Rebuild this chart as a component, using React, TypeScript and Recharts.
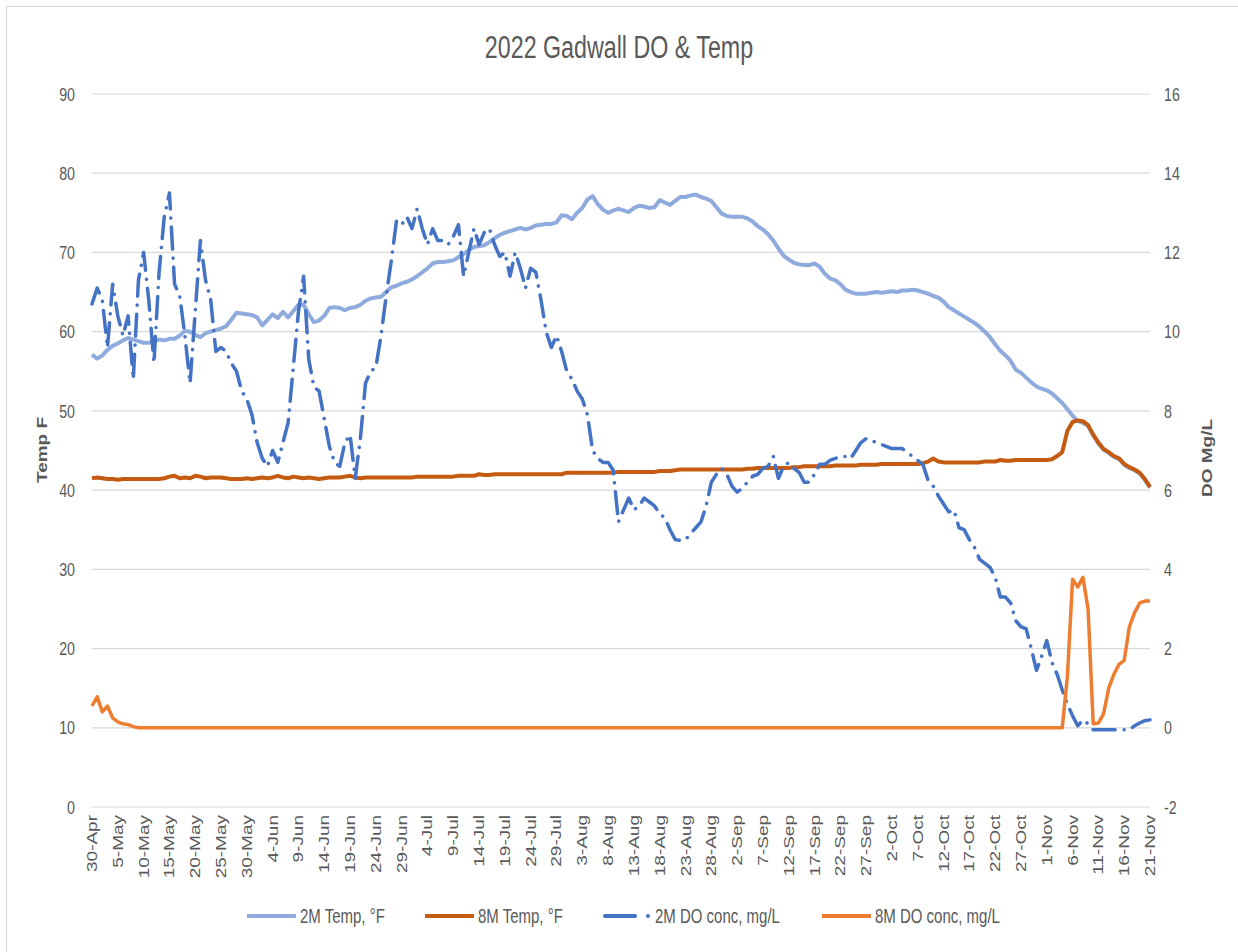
import React from 'react'
import { LineChart, Line, XAxis, YAxis, CartesianGrid } from 'recharts'

// daily readings, 30-Apr .. 21-Nov 2022
const temp2m = [
  57.1, 56.6, 57.0, 57.7, 58.2, 58.5, 58.9, 59.2, 59.0, 58.8,
  58.6, 58.6, 58.8, 59.0, 58.9, 59.1, 59.1, 59.5, 60.1, 60.0,
  59.6, 59.3, 59.8, 60.0, 60.2, 60.4, 60.7, 61.5, 62.4, 62.3,
  62.2, 62.1, 61.8, 60.8, 61.5, 62.2, 61.7, 62.5, 61.8, 62.6,
  63.4, 63.4, 62.2, 61.2, 61.4, 62.0, 63.0, 63.1, 63.0, 62.7,
  63.0, 63.1, 63.4, 63.9, 64.2, 64.3, 64.4, 65.0, 65.6, 65.8,
  66.1, 66.3, 66.6, 67.0, 67.5, 68.0, 68.6, 68.8, 68.8, 68.9,
  69.0, 69.4, 69.8, 70.3, 70.7, 70.8, 70.9, 71.3, 71.8, 72.2,
  72.5, 72.7, 72.9, 73.1, 72.9, 73.1, 73.4, 73.5, 73.6, 73.6,
  73.8, 74.7, 74.6, 74.2, 75.0, 75.6, 76.7, 77.1, 76.1, 75.4,
  75.0, 75.3, 75.5, 75.3, 75.1, 75.6, 75.9, 75.8, 75.6, 75.7,
  76.6, 76.3, 76.0, 76.5, 77.0, 77.0, 77.2, 77.3, 77.0, 76.8,
  76.5, 75.7, 74.9, 74.6, 74.5, 74.5, 74.5, 74.3, 73.9, 73.3,
  72.9, 72.3, 71.5, 70.5, 69.6, 69.1, 68.7, 68.5, 68.4, 68.4,
  68.6, 68.2, 67.3, 66.7, 66.5, 66.0, 65.3, 65.0, 64.8, 64.8,
  64.8, 64.9, 65.0, 64.9, 65.0, 65.1, 65.0, 65.2, 65.2, 65.3,
  65.2, 65.0, 64.8, 64.5, 64.3, 63.8, 63.1, 62.7, 62.3, 61.9,
  61.5, 61.1, 60.6, 60.0, 59.3, 58.4, 57.6, 57.0, 56.3, 55.2,
  54.8, 54.2, 53.6, 53.1, 52.8, 52.6, 52.2, 51.6, 51.0, 50.2,
  49.4, 48.7, 48.5, 48.1, 46.9, 45.9, 45.1, 44.7, 44.2, 43.9,
  43.2, 42.8, 42.5, 42.1, 41.3, 40.3,
]

const temp8m = [
  41.5, 41.6, 41.5, 41.4, 41.4, 41.3, 41.4, 41.4, 41.4, 41.4,
  41.4, 41.4, 41.4, 41.4, 41.5, 41.7, 41.8, 41.5, 41.6, 41.5,
  41.8, 41.7, 41.5, 41.6, 41.6, 41.6, 41.5, 41.4, 41.4, 41.4,
  41.5, 41.4, 41.5, 41.6, 41.5, 41.6, 41.8, 41.6, 41.5, 41.7,
  41.6, 41.5, 41.6, 41.5, 41.4, 41.5, 41.6, 41.6, 41.6, 41.7,
  41.8, 41.6, 41.5, 41.6, 41.6, 41.6, 41.6, 41.6, 41.6, 41.6,
  41.6, 41.6, 41.6, 41.7, 41.7, 41.7, 41.7, 41.7, 41.7, 41.7,
  41.7, 41.8, 41.8, 41.8, 41.8, 42.0, 41.9, 41.9, 42.0, 42.0,
  42.0, 42.0, 42.0, 42.0, 42.0, 42.0, 42.0, 42.0, 42.0, 42.0,
  42.0, 42.0, 42.2, 42.2, 42.2, 42.2, 42.2, 42.2, 42.2, 42.2,
  42.2, 42.2, 42.3, 42.3, 42.3, 42.3, 42.3, 42.3, 42.3, 42.3,
  42.4, 42.4, 42.4, 42.5, 42.6, 42.6, 42.6, 42.6, 42.6, 42.6,
  42.6, 42.6, 42.6, 42.6, 42.6, 42.6, 42.6, 42.7, 42.7, 42.8,
  42.8, 42.8, 42.8, 42.8, 42.8, 42.8, 42.9, 42.9, 43.0, 43.0,
  43.0, 43.0, 43.0, 43.0, 43.1, 43.1, 43.1, 43.1, 43.1, 43.2,
  43.2, 43.2, 43.2, 43.3, 43.3, 43.3, 43.3, 43.3, 43.3, 43.3,
  43.3, 43.4, 43.6, 44.0, 43.6, 43.5, 43.5, 43.5, 43.5, 43.5,
  43.5, 43.5, 43.5, 43.6, 43.6, 43.6, 43.8, 43.7, 43.7, 43.8,
  43.8, 43.8, 43.8, 43.8, 43.8, 43.8, 43.9, 44.3, 44.8, 47.5,
  48.6, 48.8, 48.7, 48.2, 47.0, 46.0, 45.2, 44.8, 44.3, 44.0,
  43.3, 42.9, 42.6, 42.2, 41.4, 40.4,
]

const do2m = [
  10.7, 11.1, 10.8, 9.6, 11.2, 10.4, 9.9, 10.4, 8.8, 11.3,
  12.0, 10.8, 9.2, 11.5, 12.9, 13.5, 11.2, 10.9, 9.9, 8.7,
  10.5, 12.3, 11.3, 10.8, 9.5, 9.6, 9.5, 9.2, 9.0, 8.5,
  8.3, 7.9, 7.2, 6.8, 6.6, 7.0, 6.7, 7.2, 7.7, 9.1,
  10.5, 11.4, 9.3, 8.6, 8.5, 7.8, 7.1, 6.7, 6.6, 7.2,
  7.4, 6.3, 7.3, 8.7, 9.0, 9.1, 9.9, 10.9, 11.8, 12.8,
  12.7, 12.9, 12.6, 13.1, 12.6, 12.2, 12.6, 12.3, 12.3, 12.2,
  12.4, 12.7, 11.4, 12.0, 12.6, 12.2, 12.5, 12.6, 12.2, 11.9,
  12.0, 11.4, 12.0, 11.6, 11.1, 11.6, 11.5, 10.8, 10.0, 9.6,
  9.9, 9.5, 9.0, 8.8, 8.5, 8.3, 7.9, 7.0, 6.8, 6.7,
  6.7, 6.5, 5.2, 5.5, 5.8, 5.5, 5.6, 5.8, 5.7, 5.6,
  5.4, 5.3, 5.0, 4.75, 4.73, 4.75, 4.9, 5.05, 5.2, 5.6,
  6.2, 6.4, 6.55, 6.4, 6.1, 5.95, 6.05, 6.2, 6.35, 6.4,
  6.55, 6.6, 6.85, 6.3, 6.6, 6.7, 6.55, 6.45, 6.2, 6.2,
  6.4, 6.65, 6.65, 6.75, 6.8, 6.85, 6.85, 6.8, 7.0, 7.2,
  7.3, 7.25, 7.2, 7.15, 7.1, 7.05, 7.05, 7.05, 6.95, 6.85,
  6.75, 6.65, 6.25, 6.1, 5.85, 5.65, 5.45, 5.5, 5.05, 5.0,
  4.75, 4.55, 4.25, 4.15, 4.05, 3.8, 3.3, 3.3, 3.15, 2.7,
  2.55, 2.5, 2.0, 1.45, 1.8, 2.2, 1.65, 1.35, 0.95, 0.6,
  0.3, 0.05, 0.2, 0.1, -0.05, -0.05, -0.05, -0.05, -0.05, -0.05,
  -0.05, -0.05, 0.05, 0.12, 0.18, 0.2,
]

const do8m = [
  0.55, 0.78, 0.4, 0.55, 0.25, 0.15, 0.1, 0.08, 0.03, 0,
  0, 0, 0, 0, 0, 0, 0, 0, 0, 0,
  0, 0, 0, 0, 0, 0, 0, 0, 0, 0,
  0, 0, 0, 0, 0, 0, 0, 0, 0, 0,
  0, 0, 0, 0, 0, 0, 0, 0, 0, 0,
  0, 0, 0, 0, 0, 0, 0, 0, 0, 0,
  0, 0, 0, 0, 0, 0, 0, 0, 0, 0,
  0, 0, 0, 0, 0, 0, 0, 0, 0, 0,
  0, 0, 0, 0, 0, 0, 0, 0, 0, 0,
  0, 0, 0, 0, 0, 0, 0, 0, 0, 0,
  0, 0, 0, 0, 0, 0, 0, 0, 0, 0,
  0, 0, 0, 0, 0, 0, 0, 0, 0, 0,
  0, 0, 0, 0, 0, 0, 0, 0, 0, 0,
  0, 0, 0, 0, 0, 0, 0, 0, 0, 0,
  0, 0, 0, 0, 0, 0, 0, 0, 0, 0,
  0, 0, 0, 0, 0, 0, 0, 0, 0, 0,
  0, 0, 0, 0, 0, 0, 0, 0, 0, 0,
  0, 0, 0, 0, 0, 0, 0, 0, 0, 0,
  0, 0, 0, 0, 0, 0, 0, 0, 0, 1.3,
  3.75, 3.55, 3.8, 3.0, 0.1, 0.12, 0.35, 1.0, 1.35, 1.6,
  1.7, 2.55, 2.9, 3.15, 3.2, 3.2,
]

const leftTicks = [0, 10, 20, 30, 40, 50, 60, 70, 80, 90]
const rightTicks = [-2, 0, 2, 4, 6, 8, 10, 12, 14, 16]
const MONTHS = ['Jan', 'Feb', 'Mar', 'Apr', 'May', 'Jun', 'Jul', 'Aug', 'Sep', 'Oct', 'Nov', 'Dec']
const START = Date.UTC(2022, 3, 30)

const dates = temp2m.map((_, i) => {
  const d = new Date(START + i * 86400000)
  return `${d.getUTCDate()}-${MONTHS[d.getUTCMonth()]}`
})

const data = dates.map((date, i) => ({
  date,
  temp2m: temp2m[i],
  temp8m: temp8m[i],
  do2m: do2m[i],
  do8m: do8m[i],
}))

const FONT = '"Liberation Sans", Arial, sans-serif'
const TXT = '#595959'
const SQ = 0.75 // the picture is squeezed sideways

const XTick = ({ x, payload }: any) => (
  <text transform={`translate(${x},815) scale(${SQ},1) rotate(-90)`} textAnchor="end" dy="0.35em"
    fontSize={19} fill={TXT} fontFamily={FONT}>{payload.value}</text>
)
const LeftTick = ({ y, payload }: any) => (
  <text transform={`translate(75,${y}) scale(${SQ},1)`} textAnchor="end" dy="0.35em"
    fontSize={19} fill={TXT} fontFamily={FONT}>{payload.value}</text>
)
const RightTick = ({ y, payload }: any) => (
  <text transform={`translate(1164,${y}) scale(${SQ},1)`} textAnchor="start" dy="0.35em"
    fontSize={19} fill={TXT} fontFamily={FONT}>{payload.value}</text>
)

const LEG_Y = 916
const legendItems = [
  { label: '2M Temp, °F', color: '#8FAADC', x: 247, dashed: false },
  { label: '8M Temp, °F', color: '#C55A11', x: 425, dashed: false },
  { label: '2M DO conc, mg/L', color: '#4472C4', x: 603, dashed: true },
  { label: '8M DO conc, mg/L', color: '#ED7D31', x: 822, dashed: false },
]

export default function App() {
  return (
    <div style={{ position: 'relative', width: 1238, height: 952, overflow: 'hidden', background: '#fff' }}>
      <style>{'body{margin:0}'}</style>
      <div style={{ position: 'absolute', left: 6, top: 6, width: 1300, height: 1000, border: '1px solid #d9d9d9' }} />
      <div style={{ position: 'absolute', left: 0, top: 0 }}>
        <LineChart width={1238} height={952} data={data} margin={{ top: 94, right: 0, bottom: 0, left: 0 }}>
          <CartesianGrid yAxisId="left" vertical={false} stroke="#d9d9d9" strokeWidth={1.2} />
          <XAxis dataKey="date" height={145} interval={4} tick={XTick} axisLine={false} tickLine={false} />
          <YAxis yAxisId="left" domain={[0, 90]} ticks={leftTicks} width={92} axisLine={false} tickLine={false} tick={LeftTick} />
          <YAxis yAxisId="right" orientation="right" domain={[-2, 16]} ticks={rightTicks} width={88} axisLine={false} tickLine={false} tick={RightTick} />
          <Line yAxisId="left" type="linear" dataKey="temp2m" stroke="#8FAADC" strokeWidth={4} dot={false} isAnimationActive={false} strokeLinejoin="round" />
          <Line yAxisId="left" type="linear" dataKey="temp8m" stroke="#C55A11" strokeWidth={4} dot={false} isAnimationActive={false} strokeLinejoin="round" />
          <Line yAxisId="right" type="linear" dataKey="do2m" stroke="#4472C4" strokeWidth={3.5} strokeDasharray="22 9 0.1 9" strokeLinecap="round" dot={false} isAnimationActive={false} strokeLinejoin="round" />
          <Line yAxisId="right" type="linear" dataKey="do8m" stroke="#ED7D31" strokeWidth={3.5} dot={false} isAnimationActive={false} strokeLinejoin="round" />
        </LineChart>
      </div>
      <svg width={1238} height={952} style={{ position: 'absolute', left: 0, top: 0, pointerEvents: 'none' }}>
        <text transform={`translate(619,58) scale(${SQ},1)`} textAnchor="middle" fontSize={31} fill={TXT} fontFamily={FONT}>
          2022 Gadwall DO &amp; Temp
        </text>
        <text transform={`translate(47,450) scale(${SQ},1) rotate(-90)`} textAnchor="middle" fontSize={19} fontWeight="bold" fill={TXT} fontFamily={FONT}>Temp F</text>
        <text transform={`translate(1212,458) scale(${SQ},1) rotate(-90)`} textAnchor="middle" fontSize={19} fontWeight="bold" fill={TXT} fontFamily={FONT}>DO Mg/L</text>
        {legendItems.map(item => (
          <g key={item.label}>
            {item.dashed ? (
              <>
                <line x1={item.x + 2} x2={item.x + 32} y1={LEG_Y} y2={LEG_Y} stroke={item.color} strokeWidth={4} strokeLinecap="round" />
                <circle cx={item.x + 45} cy={LEG_Y} r={2} fill={item.color} />
              </>
            ) : (
              <line x1={item.x} x2={item.x + 49} y1={LEG_Y} y2={LEG_Y} stroke={item.color} strokeWidth={4} />
            )}
            <text transform={`translate(${item.x + (item.dashed ? 52 : 53)},${LEG_Y}) scale(${SQ},1)`} dy="0.35em" fontSize={20} fill={TXT} fontFamily={FONT}>{item.label}</text>
          </g>
        ))}
      </svg>
    </div>
  )
}
